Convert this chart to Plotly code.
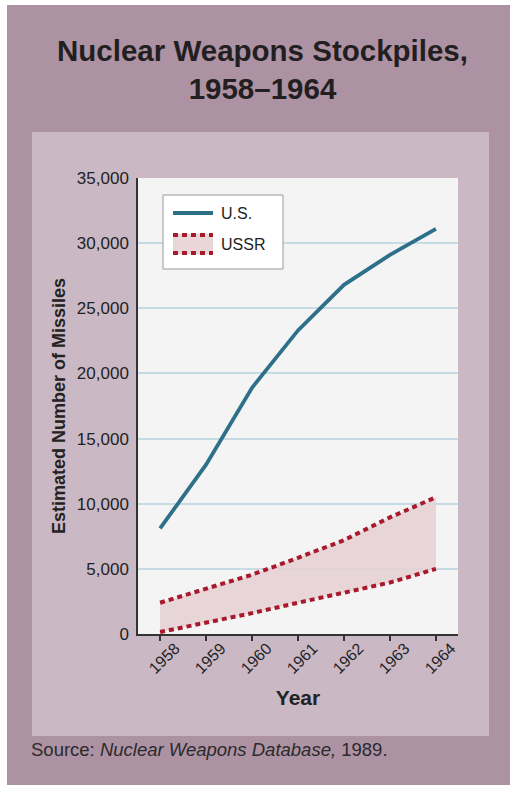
import plotly.graph_objects as go

years = [1958, 1959, 1960, 1961, 1962, 1963, 1964]
us_values = [8100, 13000, 18900, 23300, 26800, 29100, 31100]
ussr_high = [2400, 3500, 4550, 5850, 7200, 8950, 10500]
ussr_low = [150, 850, 1600, 2400, 3150, 3950, 5000]
y_ticks = [0, 5000, 10000, 15000, 20000, 25000, 30000, 35000]
y_ticklabels = ["0", "5,000", "10,000", "15,000", "20,000", "25,000", "30,000", "35,000"]

OUTER = "#ad92a4"
INNER = "#cab9c5"
PLOTBG = "#f4f4f4"
TEAL = "#2e6f89"
RED = "#a8192b"
PINK = "rgba(229,209,212,0.9)"
NARROW = "Liberation Sans, Arial, sans-serif"
SANS = "Liberation Sans, Arial, sans-serif"

# plot area in px: left 138, right 458, top 178, bottom 634
L, R, T, B = 138, 458, 178, 634
W, H = 510, 785


def px(x):
    return (x - L) / (R - L)


def py(y):
    return (B - y) / (B - T)


fig = go.Figure()

fig.add_trace(go.Scatter(x=years, y=ussr_low, mode="lines",
                         line=dict(color=RED, width=4, dash="5px,4px"),
                         showlegend=False, hoverinfo="skip"))
fig.add_trace(go.Scatter(x=years, y=ussr_high, mode="lines", fill="tonexty",
                         fillcolor=PINK,
                         line=dict(color=RED, width=4, dash="5px,4px"),
                         name="USSR", showlegend=False))
fig.add_trace(go.Scatter(x=years, y=us_values, mode="lines",
                         line=dict(color=TEAL, width=3.8),
                         name="U.S.", showlegend=False))

shapes = [
    # white strips top/left
    dict(type="rect", xref="paper", yref="paper", x0=px(0), x1=px(W), y0=py(0), y1=py(5),
         fillcolor="white", line_width=0, layer="below"),
    dict(type="rect", xref="paper", yref="paper", x0=px(0), x1=px(7), y0=py(0), y1=py(H),
         fillcolor="white", line_width=0, layer="below"),
    # inner panel
    dict(type="rect", xref="paper", yref="paper", x0=px(32), x1=px(489), y0=py(736), y1=py(132),
         fillcolor=INNER, line_width=0, layer="below"),
    # plot background
    dict(type="rect", xref="paper", yref="paper", x0=0, x1=1, y0=0, y1=1,
         fillcolor=PLOTBG, line_width=0, layer="below"),
    # legend box
    dict(type="rect", xref="paper", yref="paper", x0=px(163), x1=px(283), y0=py(269), y1=py(195),
         fillcolor="white", line=dict(color="#9a9a9a", width=1)),
    dict(type="line", xref="paper", yref="paper", x0=px(173), x1=px(213), y0=py(213), y1=py(213),
         line=dict(color=TEAL, width=4)),
    dict(type="rect", xref="paper", yref="paper", x0=px(173), x1=px(213), y0=py(254), y1=py(234),
         fillcolor=PINK, line_width=0),
    dict(type="line", xref="paper", yref="paper", x0=px(173), x1=px(213), y0=py(235), y1=py(235),
         line=dict(color=RED, width=4, dash="5px,4px")),
    dict(type="line", xref="paper", yref="paper", x0=px(173), x1=px(213), y0=py(253), y1=py(253),
         line=dict(color=RED, width=4, dash="5px,4px")),
]

annotations = [
    dict(text="<b>Nuclear Weapons Stockpiles,<br>1958–1964</b>", xref="paper", yref="paper",
         x=px(262), y=py(70), xanchor="center", yanchor="middle", showarrow=False,
         font=dict(family=SANS, size=29.5, color="#231f20")),
    dict(text="Source: <i>Nuclear Weapons Database,</i> 1989.", xref="paper", yref="paper",
         x=px(29), y=py(749), xanchor="left", yanchor="middle", showarrow=False,
         font=dict(family=SANS, size=18.5, color="#2a2a2a")),
    dict(text="U.S.", xref="paper", yref="paper", x=px(219), y=py(213), xanchor="left",
         yanchor="middle", showarrow=False, font=dict(family=NARROW, size=16, color="#222")),
    dict(text="USSR", xref="paper", yref="paper", x=px(219), y=py(244), xanchor="left",
         yanchor="middle", showarrow=False, font=dict(family=NARROW, size=16, color="#222")),
]

fig.update_layout(
    width=W, height=H,
    margin=dict(l=L, r=W - R, t=T, b=H - B, pad=0),
    paper_bgcolor=OUTER,
    plot_bgcolor="rgba(0,0,0,0)",
    shapes=shapes,
    annotations=annotations,
    showlegend=False,
)

fig.update_xaxes(
    range=[1957.52, 1964.48],
    tickvals=years, ticktext=[str(y) for y in years],
    tickangle=-45, ticks="outside", ticklen=5, tickwidth=1.5, tickcolor="#333",
    showline=True, linecolor="#333", linewidth=1.5, showgrid=False, zeroline=False,
    tickfont=dict(family=NARROW, size=16, color="#222"),
    ticklabelshift=15, ticklabelstandoff=-8,
    title=dict(text="<b>Year</b>", font=dict(family=NARROW, size=21, color="#222"), standoff=14),
)

fig.update_yaxes(
    range=[0, 35000],
    tickvals=y_ticks, ticktext=y_ticklabels,
    showline=True, linecolor="#333", linewidth=1.5,
    showgrid=True, gridcolor="#c6dce4", gridwidth=1.5, zeroline=False,
    ticks="", ticklabelstandoff=4,
    tickfont=dict(family=NARROW, size=17, color="#222"),
    title=dict(text="<b>Estimated Number of Missiles</b>",
               font=dict(family=NARROW, size=18, color="#222"), standoff=7),
)

fig.write_html("out.html")
